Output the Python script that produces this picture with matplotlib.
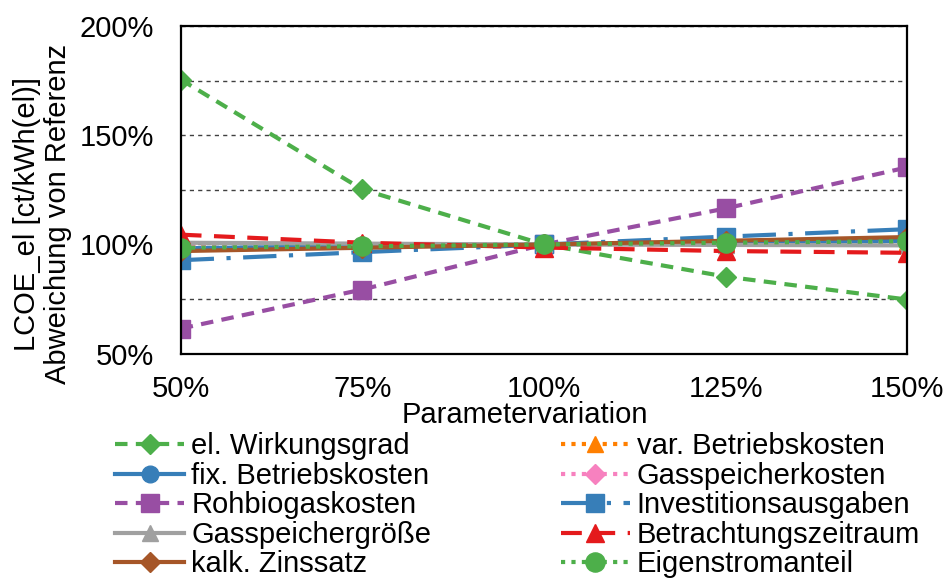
import matplotlib.pyplot as plt
from matplotlib.ticker import MultipleLocator, PercentFormatter

plt.rcParams['font.family'] = ['Liberation Sans', 'DejaVu Sans']

x_vals = [50, 75, 100, 125, 150]

wirkungsgrad = [175.5, 125.2, 100, 85.3, 74.8]
var_betrieb = [99.0, 99.5, 100, 100.5, 101.0]
fix_betrieb = [98.3, 99.2, 100, 100.8, 101.7]
gs_kosten = [99.4, 99.7, 100, 100.3, 100.6]
rohbiogas = [61.5, 79.4, 100, 116.5, 135.3]
investition = [92.8, 96.5, 100, 103.6, 107.0]
gs_groesse = [100.8, 100.4, 100, 99.8, 99.6]
betrachtung = [104.5, 100.8, 98.6, 97.0, 96.2]
zinssatz = [97.0, 98.5, 100, 101.7, 103.4]
eigenstrom = [98.5, 99.2, 100, 100.8, 101.5]

GREEN = '#4DAF4A'
BLUE = '#377EB8'
PURPLE = '#984EA3'
GRAY = '#A0A0A0'
BROWN = '#A65628'
ORANGE = '#FF7F00'
PINK = '#F781BF'
RED = '#E41A1C'

FS = 21

fig = plt.figure(figsize=(9.46, 5.78), dpi=100)
ax = fig.add_axes([0.191, 0.388, 0.768, 0.567])

lw = 3
ms = 12
series = {}
series['el. Wirkungsgrad'] = ax.plot(x_vals, wirkungsgrad, color=GREEN, ls=(0, (3, 2)), lw=lw,
                                     marker='D', ms=ms * 0.85)[0]
series['var. Betriebskosten'] = ax.plot(x_vals, var_betrieb, color=ORANGE, ls=(0, (1, 1.5)), lw=lw,
                                        marker='^', ms=ms)[0]
series['fix. Betriebskosten'] = ax.plot(x_vals, fix_betrieb, color=BLUE, ls='-', lw=lw,
                                        marker='o', ms=ms)[0]
series['Gasspeicherkosten'] = ax.plot(x_vals, gs_kosten, color=PINK, ls=(0, (1, 1.5)), lw=lw,
                                      marker='D', ms=ms * 0.85)[0]
series['Rohbiogaskosten'] = ax.plot(x_vals, rohbiogas, color=PURPLE, ls=(0, (3, 2)), lw=lw,
                                    marker='s', ms=ms * 1.1)[0]
series['Investitionsausgaben'] = ax.plot(x_vals, investition, color=BLUE, ls=(0, (8, 3, 1, 3)), lw=lw,
                                         marker='s', ms=ms * 1.1)[0]
series['Gasspeichergröße'] = ax.plot(x_vals, gs_groesse, color=GRAY, ls='-', lw=lw,
                                     marker='^', ms=ms)[0]
series['Betrachtungszeitraum'] = ax.plot(x_vals, betrachtung, color=RED, ls=(0, (5, 3)), lw=lw,
                                         marker='^', ms=ms * 1.1)[0]
series['kalk. Zinssatz'] = ax.plot(x_vals, zinssatz, color=BROWN, ls='-', lw=lw,
                                   marker='D', ms=ms * 0.85)[0]
series['Eigenstromanteil'] = ax.plot(x_vals, eigenstrom, color=GREEN, ls=(0, (1, 1.5)), lw=lw,
                                     marker='o', ms=ms * 1.15)[0]

ax.set_xlim(50, 150)
ax.set_ylim(50, 200)
ax.xaxis.set_major_locator(MultipleLocator(25))
ax.yaxis.set_major_locator(MultipleLocator(50))
ax.yaxis.set_minor_locator(MultipleLocator(25))
ax.xaxis.set_major_formatter(PercentFormatter(decimals=0))
ax.yaxis.set_major_formatter(PercentFormatter(decimals=0))
ax.tick_params(which='both', length=0, labelsize=FS)
ax.tick_params(axis='y', pad=19)
ax.tick_params(axis='x', pad=15)
ax.grid(axis='y', which='both', color='#404040', ls=(0, (3, 3)), lw=1.0, zorder=0)
ax.set_axisbelow(True)
for sp in ax.spines.values():
    sp.set_linewidth(1.6)
    sp.set_color('black')

ax.set_xlabel('Parametervariation', fontsize=FS)
ax.xaxis.set_label_coords(0.474, -0.143)
ax.set_ylabel('LCOE_el [ct/kWh(el)]\nAbweichung von Referenz', fontsize=FS, linespacing=1.12)
ax.yaxis.set_label_coords(-0.150, 0.427)

order = ['el. Wirkungsgrad', 'fix. Betriebskosten', 'Rohbiogaskosten', 'Gasspeichergröße',
         'kalk. Zinssatz', 'var. Betriebskosten', 'Gasspeicherkosten', 'Investitionsausgaben',
         'Betrachtungszeitraum', 'Eigenstromanteil']
fig.legend([series[k] for k in order], order, ncol=2, loc='upper left',
           bbox_to_anchor=(0.122, 0.252), frameon=False, fontsize=FS,
           handlelength=2.35, handletextpad=0.25, labelspacing=0.05, columnspacing=4.45,
           borderaxespad=0, borderpad=0)

fig.savefig('out.png', dpi=100)
